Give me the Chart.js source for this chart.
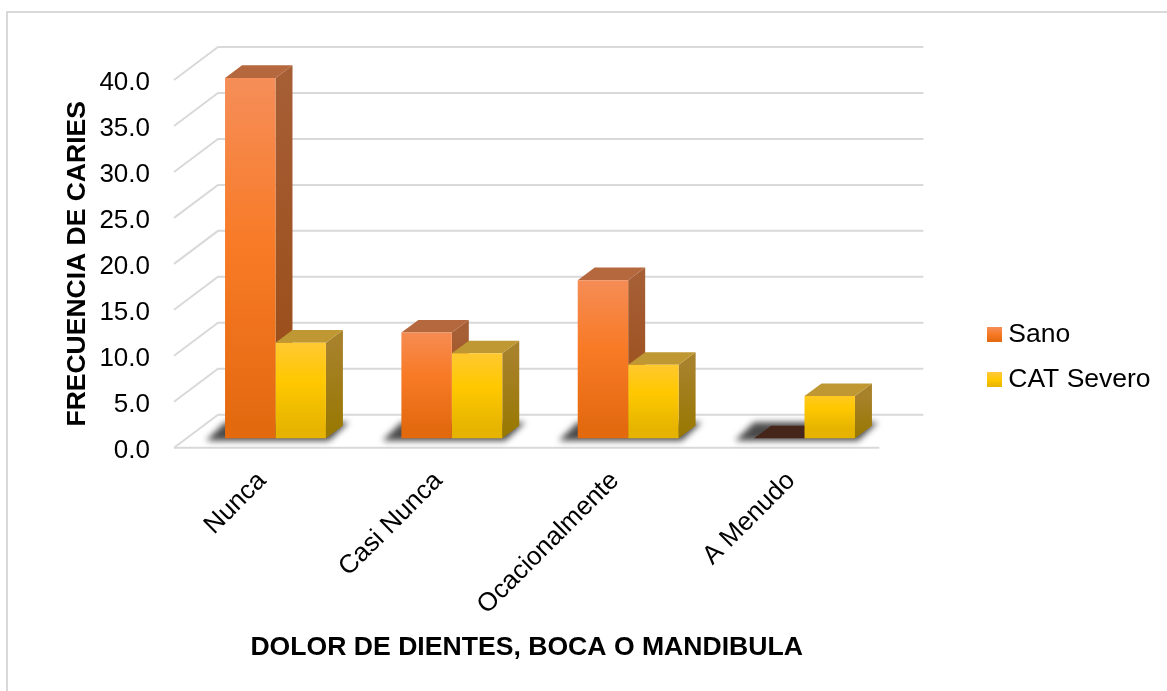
<!DOCTYPE html>
<html>
<head>
<meta charset="utf-8">
<title>Frecuencia de caries</title>
<script src="https://cdn.jsdelivr.net/npm/chart.js@4/dist/chart.umd.min.js"></script>
<style>
  html, body { margin: 0; padding: 0; background: #fff; }
  canvas { display: block; }
</style>
</head>
<body>
<canvas id="caries_chart" width="1167" height="691"></canvas>
<script>
// values
const categories = ['Nunca', 'Casi Nunca', 'Ocacionalmente', 'A Menudo'];
const sano = [39.2, 11.5, 17.2, 0];
const catSevero = [10.4, 9.25, 8.0, 4.6];

const FONT = '"Liberation Sans", Arial, sans-serif';
const GRID = '#D9D9D9';

// 3d look: wall depth, where the bars stand on the floor, and bar depth
const wall = { dx: 44, dy: -33 };
const plane = { dx: 13.3, dy: -9.4 };
const depth = { dx: 17, dy: -12.6 };

const orange = {
    stops: ['#F58F5C', '#F87A25', '#E3690F'],
    top: '#B5683E', side: ['#A65E35', '#984A12'], zero: '#46261A'
};
const yellow = {
    stops: ['#FFC93F', '#FFC800', '#E6B400'],
    top: '#BF9833', side: ['#A8812B', '#987800'], zero: '#46261A'
};

function frontGradient(ctx, y0, y1, look) {
    const g = ctx.createLinearGradient(0, y0, 0, y1);
    g.addColorStop(0, look.stops[0]);
    g.addColorStop(0.5, look.stops[1]);
    g.addColorStop(1, look.stops[2]);
    return g;
}

function barFill(look) {
    return function(c) {
        if (c.type !== 'data') return look.stops[1];
        const yS = c.chart.scales.y;
        const top = yS.getPixelForValue(c.raw) + plane.dy;
        const bottom = yS.getPixelForValue(0) + plane.dy;
        return frontGradient(c.chart.ctx, top, bottom, look);
    };
}

// legend swatch: the legend centres it on a narrow box, so it is padded on the left
function swatch(look) {
    const cv = document.createElement('canvas');
    cv.width = 22;
    cv.height = 15;
    const c = cv.getContext('2d');
    c.fillStyle = frontGradient(c, 0, 15, look);
    c.fillRect(7, 0, 15, 15);
    return cv;
}

function poly(ctx, pts, fill) {
    ctx.beginPath();
    ctx.moveTo(pts[0][0], pts[0][1]);
    for (let i = 1; i < pts.length; i++) ctx.lineTo(pts[i][0], pts[i][1]);
    ctx.closePath();
    ctx.fillStyle = fill;
    ctx.fill();
}

const frame3d = {
    id: 'frame3d',
    beforeDraw(chart) {
        const ctx = chart.ctx;
        // outer frame of the figure
        ctx.fillStyle = GRID;
        ctx.fillRect(6, 11, chart.width - 6, 2);
        ctx.fillRect(6, 11, 2, chart.height - 11);
    },
    afterLayout(chart) {
        // legend sits lower than the plot middle
        const l = chart.legend;
        const w = l.width, h = l.height;
        l.left = 968; l.right = 968 + w;
        l.top = 302; l.bottom = 302 + h;
    },
    beforeDatasetsDraw(chart) {
        const ctx = chart.ctx, yS = chart.scales.y, area = chart.chartArea;
        ctx.save();
        ctx.strokeStyle = GRID;
        ctx.lineWidth = 2;
        yS.ticks.forEach(t => {
            const y = yS.getPixelForValue(t.value);
            ctx.beginPath();
            ctx.moveTo(area.left, y);
            ctx.lineTo(area.left + wall.dx, y + wall.dy);
            ctx.lineTo(area.right + wall.dx, y + wall.dy);
            ctx.stroke();
        });
        const y0 = yS.getPixelForValue(0);
        ctx.beginPath();
        ctx.moveTo(area.left, y0);
        ctx.lineTo(area.right, y0);
        ctx.stroke();

        const m0 = chart.getDatasetMeta(0).data, m1 = chart.getDatasetMeta(1).data;
        const looks = [orange, yellow];

        // soft floor shadow under every group
        m0.forEach((el, i) => {
            const l = el.x - el.width / 2 + plane.dx;
            const r = m1[i].x + m1[i].width / 2 + plane.dx;
            const b = el.base + plane.dy + 1;
            ctx.save();
            ctx.filter = 'blur(3px)';
            poly(ctx, [[l - 19, b + 1.5], [r + 3, b + 1.5], [r + 23, b - 17], [l, b - 17]], '#4a4a4a');
            ctx.restore();
        });

        // sides and tops, orange first so yellow covers it
        [m0, m1].forEach((meta, k) => {
            const look = looks[k];
            meta.forEach((el, i) => {
                const l = el.x - el.width / 2 + plane.dx;
                const r = el.x + el.width / 2 + plane.dx;
                const t = el.y + plane.dy, b = el.base + plane.dy;
                const value = chart.data.datasets[k].data[i];
                if (value > 0) {
                    const g = ctx.createLinearGradient(0, t, 0, b);
                    g.addColorStop(0, look.side[0]);
                    g.addColorStop(1, look.side[1]);
                    poly(ctx, [[r, t], [r + depth.dx, t + depth.dy], [r + depth.dx, b + depth.dy], [r, b]], g);
                }
                poly(ctx, [[l, t], [r, t], [r + depth.dx, t + depth.dy], [l + depth.dx, t + depth.dy]],
                    value > 0 ? look.top : look.zero);
            });
        });
        ctx.restore();

        // native bars are shifted back onto the floor plane
        ctx.save();
        ctx.translate(plane.dx, plane.dy);
    },
    afterDatasetsDraw(chart) {
        chart.ctx.restore();
    }
};

new Chart(document.getElementById('caries_chart'), {
    type: 'bar',
    data: {
        labels: categories,
        datasets: [
            { label: 'Sano', data: sano, backgroundColor: barFill(orange), clip: false,
              barPercentage: 1, categoryPercentage: 0.572 },
            { label: 'CAT Severo', data: catSevero, backgroundColor: barFill(yellow), clip: false,
              barPercentage: 1, categoryPercentage: 0.572 }
        ]
    },
    options: {
        responsive: false,
        animation: false,
        layout: { padding: { top: 80, right: 95, bottom: 0, left: 0 } },
        plugins: {
            tooltip: { enabled: false },
            legend: {
                position: 'right',
                align: 'start',
                labels: {
                    color: '#000',
                    font: { family: FONT, size: 26.5 },
                    usePointStyle: true,
                    pointStyleWidth: 8,
                    padding: 19,
                    generateLabels() {
                        return [
                            { text: 'Sano', pointStyle: swatch(orange), fontColor: '#000', lineWidth: 0, datasetIndex: 0 },
                            { text: 'CAT Severo', pointStyle: swatch(yellow), fontColor: '#000', lineWidth: 0, datasetIndex: 1 }
                        ];
                    }
                }
            }
        },
        scales: {
            x: {
                grid: { display: false },
                border: { display: false },
                ticks: {
                    color: '#000',
                    font: { family: FONT, size: 26 },
                    minRotation: 45,
                    maxRotation: 45,
                    autoSkip: false,
                    padding: 10
                },
                title: {
                    display: true,
                    text: 'DOLOR DE DIENTES, BOCA O MANDIBULA',
                    color: '#000',
                    font: { family: FONT, size: 26.6, weight: 'bold' },
                    padding: { top: 0, bottom: 27 }
                },
                afterFit(scale) { scale.height = 243.3; }
            },
            y: {
                min: 0,
                max: 40,
                grid: { display: false },
                border: { display: false },
                ticks: {
                    stepSize: 5,
                    color: '#000',
                    font: { family: FONT, size: 26 },
                    padding: 16,
                    labelOffset: 3,
                    callback: v => v.toFixed(1)
                },
                title: {
                    display: true,
                    text: 'FRECUENCIA DE CARIES',
                    color: '#000',
                    font: { family: FONT, size: 26.5, weight: 'bold' },
                    padding: { top: 62, bottom: 0 }
                },
                afterFit(scale) { scale.width = 174; }
            }
        }
    },
    plugins: [frame3d]
});
</script>
</body>
</html>
